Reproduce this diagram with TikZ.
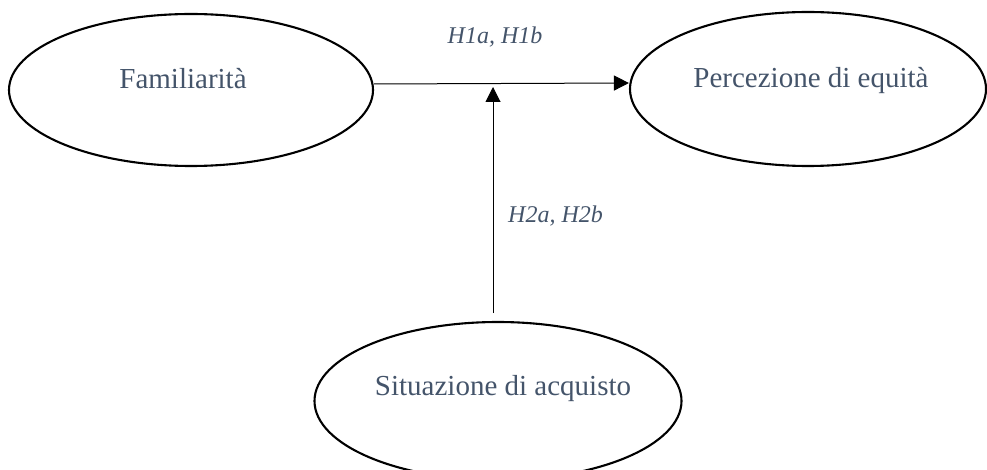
\documentclass[tikz,border=0pt]{standalone}
\usepackage{fontspec}
\setmainfont{Liberation Serif}
\usetikzlibrary{shapes.geometric,arrows.meta}
\definecolor{txt}{HTML}{44546A}
\tikzset{
  oval/.style={ellipse, draw=black, line width=2.1pt, inner sep=0pt},
  lbl/.style={text=txt, font=\fontsize{29}{34}\selectfont, inner sep=0pt, anchor=base},
  hyp/.style={text=txt, font=\fontsize{24}{28}\selectfont\itshape, inner sep=0pt},
  conn/.style={line width=1pt, -{Triangle[length=15pt,width=15pt]}}
}
\begin{document}
\begin{tikzpicture}[x=1pt,y=-1pt]
\useasboundingbox (0,0) rectangle (987,470);
\clip (0,0) rectangle (987,470);
\node[oval, minimum width=364pt, minimum height=152pt] (fam) at (191,90) {};
\node[oval, minimum width=356pt, minimum height=154pt] (perc) at (808,89) {};
\node[oval, minimum width=367pt, minimum height=158pt] (sit) at (498,401) {};
\node[lbl] (famT) at (183,89) {Familiarità};
\node[lbl] (percT) at (811,88) {Percezione di equità};
\node[lbl] (sitT) at (503,395) {Situazione di acquisto};
\draw[conn] ([yshift=6pt]fam.east) -- ([yshift=6pt]perc.west);
\coordinate (vs) at (493,313);
\coordinate (vt) at (493,87);
\draw[conn] (vs) -- (vt);
\node[hyp, anchor=base] (h1) at (495,44) {H1a, H1b};
\node[hyp, anchor=base west] (h2) at (508,223) {H2a, H2b};
\end{tikzpicture}
\end{document}
